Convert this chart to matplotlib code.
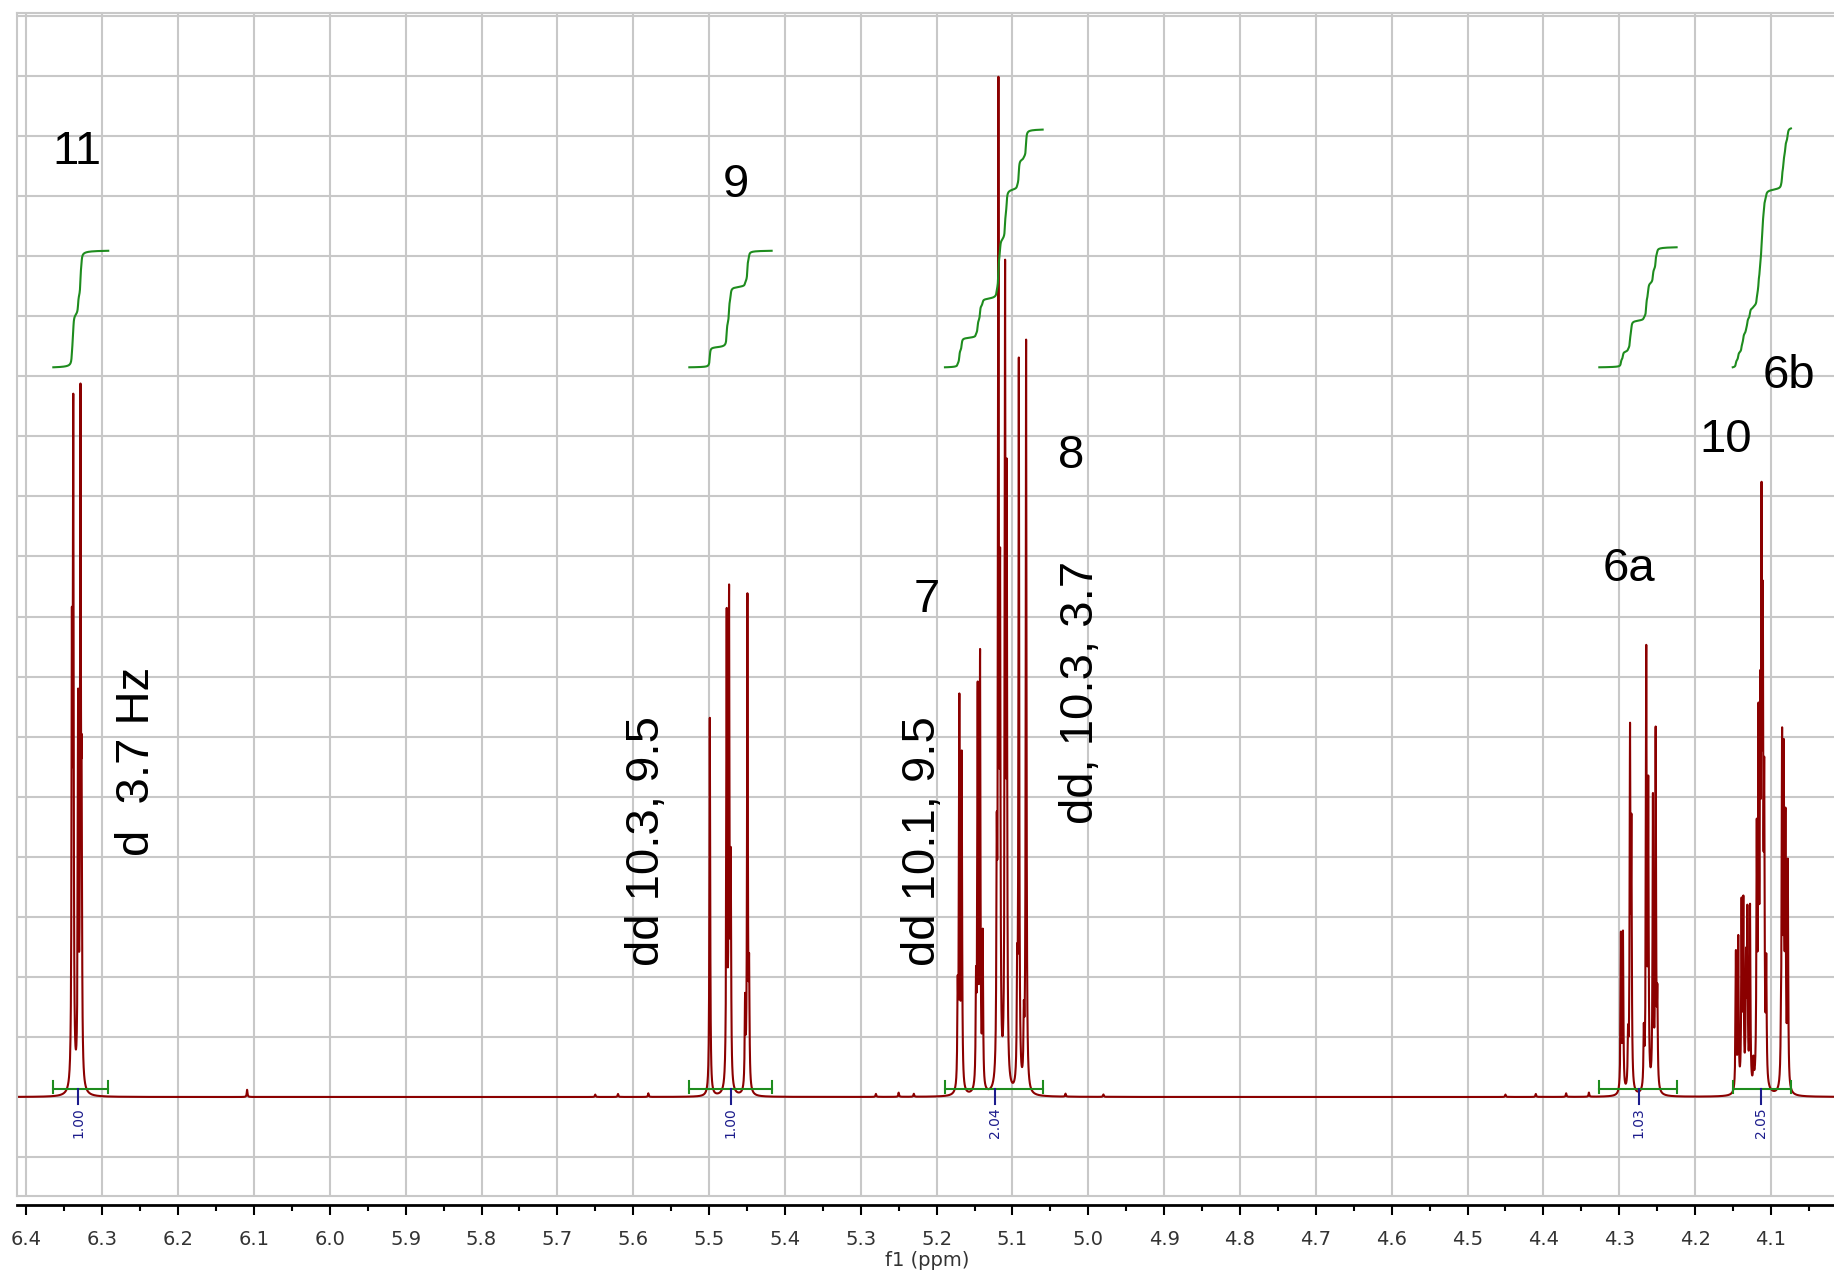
import numpy as np
import matplotlib
matplotlib.use('Agg')
import matplotlib.pyplot as plt
from matplotlib.ticker import FixedLocator, FormatStrFormatter

# lines: position (ppm) and height (grid units above baseline)
peak_ppm = [
    # 11
    6.3400, 6.3382, 6.3318, 6.3287, 6.3272,
    # 9
    5.4990, 5.4767, 5.4736, 5.4714, 5.4525, 5.4494, 5.4472,
    # 7 / 8
    5.1722, 5.1700, 5.1669, 5.1480, 5.1458, 5.1427, 5.1392,
    5.1207, 5.1185, 5.1163, 5.1097, 5.1075, 5.0938, 5.0916, 5.0850, 5.0820,
    # 6a
    4.2978, 4.2951, 4.2884, 4.2858, 4.2840, 4.2676, 4.2644, 4.2618,
    4.2556, 4.2520, 4.2498,
    # 10 / 6b
    4.1462, 4.1431, 4.1387, 4.1364, 4.1329, 4.1311, 4.1276, 4.1231,
    4.1187, 4.1164, 4.1142, 4.1124, 4.1107, 4.1089, 4.1062,
    4.0867, 4.0853, 4.0831, 4.0809, 4.0778,
]
peak_height = [
    7.0, 10.9, 6.2, 11.0, 4.3,
    6.3, 7.8, 8.0, 3.5, 1.4, 8.2, 1.8,
    1.5, 6.4, 5.5, 1.6, 6.5, 7.1, 2.5,
    3.4, 16.1, 7.8, 13.1, 9.6, 1.6, 12.1, 1.0, 12.5,
    2.6, 2.6, 0.8, 5.75, 4.1, 0.9, 7.2, 4.9,
    4.8, 5.9, 1.4,
    2.3, 2.5, 3.0, 3.0, 2.0, 2.8, 3.0, 0.4,
    4.0, 5.6, 5.5, 8.6, 6.9, 4.5, 1.9,
    0.8, 5.55, 5.2, 4.2, 3.7,
]

# small bumps on the baseline
bump_ppm = [6.109, 5.65, 5.62, 5.58, 5.28, 5.25, 5.23, 5.03, 4.98, 4.45, 4.41, 4.37, 4.34]
bump_height = [0.12, 0.04, 0.05, 0.06, 0.05, 0.07, 0.05, 0.05, 0.04, 0.04, 0.05, 0.06, 0.07]

# ppm axis ticks
major_ticks = [6.4, 6.3, 6.2, 6.1, 6.0, 5.9, 5.8, 5.7, 5.6, 5.5, 5.4, 5.3,
               5.2, 5.1, 5.0, 4.9, 4.8, 4.7, 4.6, 4.5, 4.4, 4.3, 4.2, 4.1]
minor_ticks = [6.35, 6.25, 6.15, 6.05, 5.95, 5.85, 5.75, 5.65, 5.55, 5.45, 5.35, 5.25,
               5.15, 5.05, 4.95, 4.85, 4.75, 4.65, 4.55, 4.45, 4.35, 4.25, 4.15, 4.05]

# integrals
int_from = [6.3645, 5.526, 5.189, 4.3263, 4.1504]
int_to = [6.292, 5.4174, 5.0601, 4.2243, 4.0736]
int_value = [1.00, 1.00, 2.04, 1.03, 2.05]
int_mark = [6.332, 5.4715, 5.123, 4.2743, 4.1131]

# assignments and couplings
label_text = ['11', '9', '7', '8', '6a', '10', '6b']
label_ppm = [6.3337, 5.4645, 5.2127, 5.0228, 4.2871, 4.1593, 4.0762]
label_y = [15.53, 14.98, 8.07, 10.47, 8.59, 10.74, 11.80]

coupling_text = ['d  3.7 Hz', 'dd 10.3, 9.5', 'dd 10.1, 9.5', 'dd, 10.3, 3.7']
coupling_ppm = [6.2542, 5.5818, 5.2179, 5.0096]
coupling_y = [5.59, 4.26, 4.26, 6.74]

red = '#8b0000'
green = '#1e8c1e'
blue = '#1c1c8c'
grey = '#c8c8c8'

# spectrum trace built from the line list
x = np.arange(4.0, 6.45, 0.0001)
w = 0.0006
spec = np.zeros_like(x)
for p, h in zip(peak_ppm + bump_ppm, peak_height + bump_height):
    spec += h / (1 + ((x - p) / w) ** 2)

fig = plt.figure(figsize=(18.34, 12.76), dpi=100)
ax = fig.add_axes([0.0091, 0.0627, 0.9909, 0.92735])
ax.set_xlim(6.4128, 4.0169)
ax.set_ylim(-1.648, 18.054)

ax.set_xticks(major_ticks)
ax.set_yticks(range(-1, 19))
ax.tick_params(length=0, labelbottom=False, labelleft=False)
ax.grid(True, color=grey, lw=1.5)
ax.set_axisbelow(True)
for s in ['left', 'top', 'bottom']:
    ax.spines[s].set_color(grey)
    ax.spines[s].set_linewidth(1.5)
ax.spines['right'].set_visible(False)

ax.plot(x, spec, color=red, lw=1.5)

# integrals
base_level = 12.15
per_proton = 1.94
for a, b, v, m in zip(int_from, int_to, int_value, int_mark):
    mask = (x >= b) & (x <= a)
    seg = spec[mask]
    c = np.cumsum(seg[::-1])[::-1]
    ax.plot(x[mask], base_level + v * per_proton * c / c.max(), color=green, lw=1.5)
    ax.plot([a, b], [0.128, 0.128], color=green, lw=1.5)
    ax.plot([a, a], [0.06, 0.26], color=green, lw=1.5)
    ax.plot([b, b], [0.06, 0.26], color=green, lw=1.5)
    ax.plot([m, m], [0.128, -0.12], color=blue, lw=1.5)
    ax.text(m, -0.17, '%.2f' % v, rotation=90, ha='center', va='top',
            fontsize=10, color=blue)

for t, p, yy in zip(label_text, label_ppm, label_y):
    ax.text(p, yy, t, ha='center', va='baseline', fontsize=34,
            family='Liberation Sans')
for t, p, yy in zip(coupling_text, coupling_ppm, coupling_y):
    ax.text(p, yy, t, ha='center', va='center', rotation=90, fontsize=34,
            family='Liberation Sans')

# ppm axis below the frame
sec = ax.secondary_xaxis(-0.0076)
sec.xaxis.set_major_locator(FixedLocator(major_ticks))
sec.xaxis.set_minor_locator(FixedLocator(minor_ticks))
sec.xaxis.set_major_formatter(FormatStrFormatter('%.1f'))
sec.tick_params(which='major', length=7, width=1.5, labelsize=14, pad=11,
                labelcolor='#333333')
sec.tick_params(which='minor', length=4.3, width=1.5)
sec.spines['bottom'].set_linewidth(2)

fig.text(0.5057, 0.0118, 'f1 (ppm)', ha='center', va='center', fontsize=14,
         color='#333333')

plt.savefig('out.png', dpi=100)
